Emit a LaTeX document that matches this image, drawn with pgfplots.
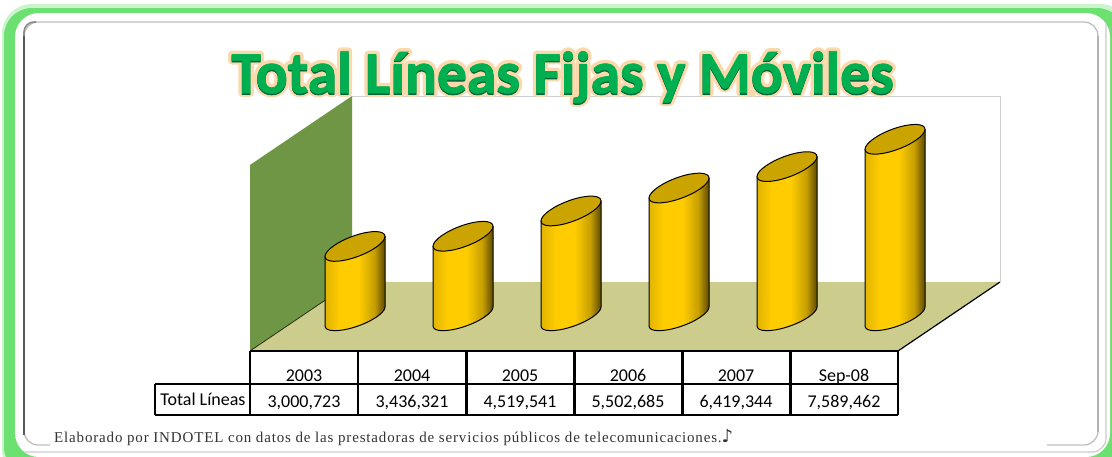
\documentclass[border=0pt]{standalone}
\usepackage{pgfplots}
\pgfplotsset{compat=1.18}
\usepackage{fontspec}
\setmainfont{Carlito}
\newfontfamily\titlefont{Carlito Bold}[FakeBold=1.2]
\newfontfamily\glowfont{Carlito Bold}[FakeBold=13]
\newfontfamily\notefont{Liberation Serif}[LetterSpace=5.6]
\newfontfamily\symfont{DejaVu Sans}
\pgfplotstableread{
x v
0 3000723
1 3436321
2 4519541
3 5502685
4 6419344
5 7589462
}\lineas
\definecolor{bargold}{HTML}{FFCC00}
\definecolor{bartop}{HTML}{CCA400}
\definecolor{wallgreen}{HTML}{6F9644}
\definecolor{floorc}{HTML}{CCCC8C}
\definecolor{frameg}{HTML}{6CE070}
\definecolor{titleg}{HTML}{00B050}
\definecolor{titled}{HTML}{00643A}
\definecolor{glow}{HTML}{FBD9AC}
\pgfdeclarehorizontalshading{cylshade}{100bp}{
 color(0bp)=(bargold!88!black);
 color(25bp)=(bargold!88!black);
 color(37bp)=(bargold);
 color(53bp)=(bargold);
 color(66bp)=(bargold!78!black);
 color(75bp)=(bargold!36!black);
 color(100bp)=(bargold!36!black)}
% one cylinder: the mark point is the centre of the top ellipse, \cylh its height
\pgfdeclareplotmark{cyl}{%
 \path[shading=cylshade,draw=black,line width=1pt,line join=round]
  (-30pt,-10pt)
  -- (-30pt,-\cylh pt-9.5pt)
  .. controls (-30pt,-\cylh pt-15.3pt) and (-16.57pt,-\cylh pt-15.75pt) .. (0pt,-\cylh pt-10.5pt)
  .. controls (16.57pt,-\cylh pt-5.25pt) and (30pt,-\cylh pt+3.7pt) .. (30pt,-\cylh pt+9.5pt)
  -- (30pt,10pt) -- cycle;
 \pgfsetfillcolor{bartop}\pgfsetstrokecolor{black}\pgfsetlinewidth{1pt}%
 \pgfpathellipse{\pgfpointorigin}{\pgfqpoint{30pt}{10pt}}{\pgfqpoint{0pt}{11pt}}%
 \pgfusepath{fill,stroke}%
}
\begin{document}
\begin{tikzpicture}[x=1pt,y=-1pt]
\useasboundingbox (0,0) rectangle (1112,456);
\fill[white] (0,0) rectangle (1112,456);
% outer frame
\fill[frameg!35,rounded corners=30pt] (2,4) rectangle (1130,480);
\fill[frameg,rounded corners=28pt] (4,8) rectangle (1125,475);
\fill[white,rounded corners=24pt] (15,13) rectangle (1110,457);
% inner frames
\draw[black!25,line width=1.3pt,rounded corners=14pt] (24,22) -- (1098,22) -- (1098,445) -- (24,445) -- cycle;
\draw[black!45,line width=1.6pt,rounded corners=10pt] (24,40) -- (24,22) -- (36,22);
\draw[black!65,line width=2pt] (24,36) -- (24,435);
\draw[black!30,line width=2.5pt] (1098,36) -- (1098,432);
\draw[black!20,line width=1.2pt,rounded corners=14pt] (24,452) -- (1106,452) -- (1106,24);
\fill[white] (50,435) rectangle (1047,450);
% chart walls
\fill[white] (352,96) rectangle (1000,282);
\draw[black!18,line width=1pt] (352,96) -- (1000,96) -- (1000,282);
\fill[wallgreen] (250,165) -- (352,96) -- (352,282) -- (250,351) -- cycle;
\fill[floorc] (250,351) -- (352,282) -- (1000,282) -- (898,351) -- cycle;
\draw[black!70!wallgreen,line width=.8pt] (250,351) -- (352,282);
\draw[black,line width=1.2pt] (898,351) -- (1000,282);
% table
\draw[black,line width=2pt] (250,351) -- (898,351);
\foreach \X in {250,358,466.5,574.5,682.5,790.5,898} \draw[black,line width=2.1pt] (\X,351) -- (\X,415);
\draw[black,line width=2pt] (155,384) -- (898,384);
\draw[black,line width=2pt] (155,415) -- (898,415) (155,384) -- (155,415);
\foreach \X/\L in {304/2003,412/2004,520/2005,628/2006,736/2007,844/Sep-08}
 \node[font=\fontsize{18}{20}\selectfont,anchor=base] at (\X,381) {\L};
\node[font=\fontsize{18}{20}\selectfont,anchor=base] at (203,405) {Total Líneas};
\foreach \X/\L in {304/{3,000,723},412/{3,436,321},520/{4,519,541},628/{5,502,685},736/{6,419,344},844/{7,589,462}}
 \node[font=\fontsize{18}{20}\selectfont,anchor=base] at (\X,407) {\L};
% bars, in data coordinates: 23.35 px per million lines
\begin{axis}[
 at={(0pt,-456pt)},anchor=south west,
 scale only axis,width=1112pt,height=456pt,
 xmin=-3.287037,xmax=7.009259,
 ymin=-5974304,ymax=13554604,
 hide axis,clip=false]
\addplot[scatter,only marks,mark=cyl,
 scatter src=y,
 visualization depends on={\thisrow{v}*0.00002335 \as \cylh},
 scatter/@pre marker code/.code={\scope},
 scatter/@post marker code/.code={\endscope}]
 table[x=x,y=v]{\lineas};
\end{axis}
% title
\node[font=\fontsize{59.5}{66}\selectfont\glowfont,text=glow,anchor=base] at (562.5,93) {\special{pdf:code 1 j 1 J}Total Líneas Fijas y Móviles};
\node[font=\fontsize{59.5}{66}\selectfont\titlefont,text=titled,anchor=base] at (562.5,94.5) {Total Líneas Fijas y Móviles};
\node[font=\fontsize{59.5}{66}\selectfont\titlefont,text=titleg,anchor=base] at (562.5,93) {Total Líneas Fijas y Móviles};
% note
\node[font=\fontsize{15}{16}\selectfont\notefont,text=black!80,anchor=base west,inner sep=0pt] at (54,442) {Elaborado por INDOTEL con datos de las prestadoras de servicios públicos de telecomunicaciones.{\symfont\fontsize{18}{16}\selectfont ♪}};
\end{tikzpicture}
\end{document}
